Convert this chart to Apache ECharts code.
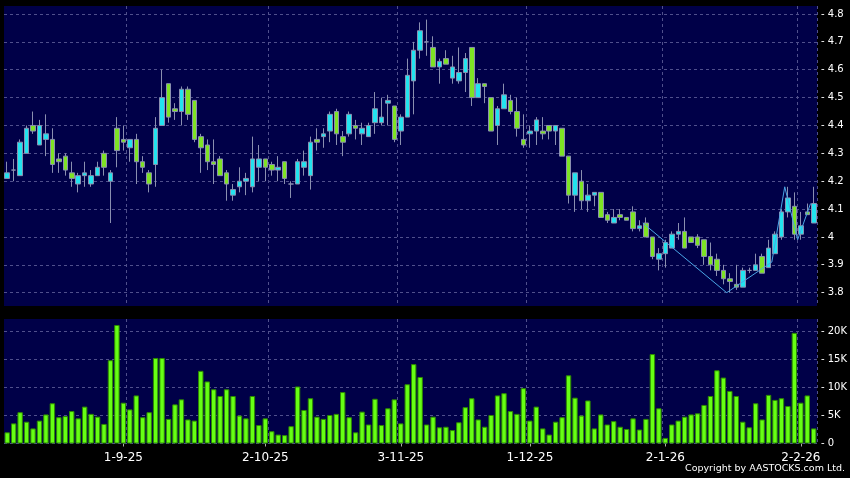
<!DOCTYPE html>
<html><head><meta charset="utf-8">
<script src="https://cdn.jsdelivr.net/npm/echarts@6/dist/echarts.min.js"></script>
<style>html,body{margin:0;padding:0;background:#000;}#c{width:850px;height:478px;}</style>
</head><body><div id="c"></div>
<script>
const categories = [
"6-8-25","7-8-25","8-8-25","11-8-25","12-8-25","13-8-25","14-8-25","15-8-25","18-8-25","19-8-25","20-8-25","21-8-25","22-8-25","25-8-25","26-8-25","27-8-25","28-8-25","29-8-25",
"1-9-25","2-9-25","3-9-25","4-9-25","5-9-25","8-9-25","9-9-25","10-9-25","11-9-25","12-9-25","15-9-25","16-9-25","17-9-25","18-9-25","19-9-25","22-9-25","23-9-25","24-9-25","25-9-25","26-9-25","29-9-25","30-9-25",
"2-10-25","3-10-25","6-10-25","7-10-25","8-10-25","9-10-25","10-10-25","13-10-25","14-10-25","15-10-25","16-10-25","17-10-25","20-10-25","21-10-25","22-10-25","23-10-25","24-10-25","27-10-25","28-10-25","30-10-25","31-10-25",
"3-11-25","4-11-25","5-11-25","6-11-25","7-11-25","10-11-25","11-11-25","12-11-25","13-11-25","14-11-25","17-11-25","18-11-25","19-11-25","20-11-25","21-11-25","24-11-25","25-11-25","26-11-25","27-11-25","28-11-25",
"1-12-25","2-12-25","3-12-25","4-12-25","5-12-25","8-12-25","9-12-25","10-12-25","11-12-25","12-12-25","15-12-25","16-12-25","17-12-25","18-12-25","19-12-25","22-12-25","23-12-25","24-12-25","29-12-25","30-12-25","31-12-25",
"2-1-26","5-1-26","6-1-26","7-1-26","8-1-26","9-1-26","12-1-26","13-1-26","14-1-26","15-1-26","16-1-26","19-1-26","20-1-26","21-1-26","22-1-26","23-1-26","26-1-26","27-1-26","28-1-26","29-1-26","30-1-26",
"2-2-26","3-2-26","4-2-26"];

const tickLabels = ["1-9-25","2-10-25","3-11-25","1-12-25","2-1-26","2-2-26"];
const gridLineDates = ["2-9-25","3-10-25","3-11-25","1-12-25","2-1-26","2-2-26"];

const openP = [4.21,4.24,4.22,4.30,4.40,4.33,4.35,4.35,4.28,4.29,
4.23,4.19,4.22,4.19,4.22,4.30,4.20,4.39,4.35,4.32,
4.35,4.27,4.23,4.26,4.40,4.55,4.46,4.45,4.53,4.49,
4.36,4.33,4.27,4.28,4.23,4.15,4.18,4.20,4.18,4.25,
4.28,4.26,4.24,4.27,4.19,4.19,4.25,4.22,4.35,4.36,
4.38,4.45,4.36,4.37,4.40,4.37,4.36,4.41,4.41,4.48,
4.47,4.38,4.43,4.56,4.67,4.70,4.68,4.61,4.64,4.57,
4.56,4.59,4.68,4.50,4.55,4.50,4.40,4.46,4.49,4.45,
4.35,4.37,4.38,4.38,4.40,4.38,4.39,4.29,4.15,4.20,
4.13,4.15,4.16,4.08,4.05,4.08,4.07,4.09,4.03,4.05,
4.00,3.92,3.94,3.96,4.01,4.02,4.00,4.00,3.99,3.93,
3.92,3.88,3.85,3.83,3.82,3.88,3.88,3.93,3.89,3.94,
4.00,4.09,4.11,4.01,4.09,4.05];
const closeP = [4.23,4.24,4.34,4.39,4.38,4.40,4.37,4.26,4.27,4.24,
4.21,4.22,4.23,4.22,4.25,4.25,4.23,4.31,4.34,4.35,
4.27,4.25,4.19,4.39,4.50,4.43,4.45,4.53,4.44,4.35,
4.32,4.27,4.26,4.22,4.19,4.17,4.20,4.21,4.28,4.28,
4.25,4.24,4.25,4.21,4.19,4.27,4.27,4.34,4.34,4.37,
4.44,4.37,4.34,4.44,4.39,4.39,4.40,4.46,4.43,4.49,
4.35,4.43,4.58,4.67,4.74,4.70,4.61,4.63,4.62,4.61,
4.59,4.64,4.50,4.55,4.54,4.38,4.46,4.51,4.45,4.39,
4.33,4.38,4.42,4.37,4.38,4.40,4.29,4.15,4.23,4.13,
4.15,4.16,4.07,4.06,4.07,4.07,4.06,4.03,4.04,4.00,
3.93,3.94,3.98,4.01,4.02,3.96,3.98,3.97,3.93,3.90,
3.88,3.85,3.84,3.82,3.88,3.88,3.90,3.87,3.96,4.01,
4.09,4.14,4.01,4.04,4.08,4.12];
const lowP = [4.21,4.20,4.22,4.30,4.37,4.33,4.29,4.23,4.23,4.22,
4.18,4.16,4.18,4.18,4.22,4.22,4.05,4.25,4.31,4.27,
4.19,4.23,4.16,4.18,4.40,4.41,4.42,4.40,4.42,4.34,
4.23,4.24,4.19,4.22,4.13,4.13,4.16,4.15,4.16,4.20,
4.20,4.22,4.20,4.19,4.14,4.19,4.22,4.17,4.31,4.32,
4.34,4.33,4.29,4.36,4.35,4.33,4.36,4.37,4.40,4.40,
4.34,4.33,4.43,4.44,4.64,4.65,4.61,4.55,4.62,4.55,
4.55,4.52,4.47,4.50,4.48,4.38,4.33,4.46,4.44,4.36,
4.32,4.32,4.33,4.35,4.35,4.33,4.29,4.12,4.09,4.10,
4.09,4.11,4.07,4.05,4.05,4.06,4.06,4.02,4.02,4.00,
3.92,3.88,3.89,3.96,3.99,3.96,3.98,3.96,3.90,3.88,
3.86,3.83,3.80,3.81,3.82,3.87,3.88,3.87,3.89,3.94,
3.99,4.07,3.99,3.99,4.08,4.05];
const highP = [4.27,4.28,4.35,4.40,4.45,4.42,4.44,4.39,4.30,4.30,
4.27,4.23,4.27,4.24,4.27,4.31,4.24,4.43,4.40,4.35,
4.37,4.29,4.24,4.43,4.60,4.55,4.48,4.54,4.54,4.49,
4.37,4.35,4.35,4.29,4.24,4.19,4.25,4.23,4.36,4.33,
4.28,4.27,4.29,4.27,4.20,4.28,4.31,4.36,4.39,4.39,
4.45,4.46,4.38,4.45,4.42,4.41,4.41,4.52,4.50,4.51,
4.47,4.44,4.64,4.70,4.77,4.78,4.72,4.64,4.67,4.65,
4.68,4.66,4.68,4.57,4.55,4.50,4.47,4.55,4.51,4.50,
4.44,4.40,4.43,4.43,4.40,4.40,4.39,4.29,4.23,4.24,
4.19,4.16,4.16,4.09,4.10,4.10,4.07,4.11,4.06,4.07,
4.00,3.96,3.99,4.02,4.05,4.07,4.00,4.01,3.99,3.98,
3.94,3.90,3.87,3.90,3.89,3.89,3.94,3.94,3.99,4.02,
4.10,4.18,4.16,4.09,4.12,4.18];

// volume in thousands
const volumeK = [2.0,3.6,5.6,3.9,2.7,4.1,5.2,7.2,4.7,4.9,
5.8,4.5,6.6,5.3,4.8,3.5,14.9,21.2,7.3,6.1,
8.6,4.7,5.6,15.3,15.3,4.4,7.0,7.9,4.3,4.1,
13.0,11.1,9.7,8.5,9.7,8.5,5.0,4.5,8.5,3.3,
4.5,2.2,1.6,1.5,3.1,10.2,6.0,8.1,4.8,4.4,
5.1,5.3,9.2,4.7,2.0,5.7,3.4,8.0,3.3,6.3,
7.9,3.6,10.6,14.2,11.9,3.4,4.8,2.9,3.0,2.4,
3.8,6.5,8.1,4.3,3.0,5.1,8.6,9.0,5.8,5.3,
9.9,4.1,6.6,2.7,1.6,3.9,4.7,12.2,8.2,5.0,
7.7,2.7,5.2,3.4,4.0,3.0,2.6,4.5,2.5,4.4,
16.0,6.3,1.0,3.4,4.1,4.8,5.2,5.4,6.9,8.5,
13.1,11.8,9.4,8.5,3.9,2.9,7.2,4.3,8.7,7.8,
8.1,6.7,19.8,7.3,8.6,2.7];

// zigzag overlay: index position (band start) and price
const zigzagIdx = [99,112,119,121,123,125];
const zigzagVal = [4.05,3.80,3.91,4.18,3.99,4.12];

const priceMin = 3.8, priceMax = 4.8, priceStep = 0.1;
const volMin = 0, volMax = 20, volStep = 5;

const font = 'DejaVu Sans';
const navy = '#000048';
const gridCol = '#50508c';
const L = 4, R = 33;

const labelSet = new Set(tickLabels.map(d => categories.indexOf(d)));
const gridSet = new Set(gridLineDates.map(d => categories.indexOf(d)));
const labelFn = (i) => labelSet.has(i);
const gridFn = (i) => gridSet.has(i);

const candles = categories.map((_, i) => [openP[i], closeP[i], lowP[i], highP[i]]);
const zigzag = zigzagIdx.map((x, k) => [x, zigzagVal[k]]);

const chart = echarts.init(document.getElementById('c'), null, {renderer: 'canvas'});
const dashed = {color: gridCol, type: [3, 3], width: 1};

chart.setOption({
  backgroundColor: '#000000',
  animation: false,
  title: {
    text: 'Copyright by AASTOCKS.com Ltd.',
    right: 5, top: 464, padding: 0,
    textStyle: {color: '#ffffff', fontSize: 9.5, fontWeight: 'normal', fontFamily: font}
  },
  grid: [
    {left: L, right: R, top: 6, height: 300, show: true, backgroundColor: navy, borderWidth: 0},
    {left: L, right: R, top: 14, height: 278.7, show: false},
    {left: L, right: R, top: 319, height: 124.5, show: true, backgroundColor: navy, borderWidth: 0},
    {left: L, right: R, top: 331.7, height: 111.8, show: false}
  ],
  xAxis: [
    {gridIndex: 0, type: 'category', data: categories, boundaryGap: true,
     axisLine: {show: false}, axisTick: {show: false}, axisLabel: {show: false},
     splitLine: {show: true, interval: gridFn, lineStyle: dashed}},
    {gridIndex: 1, type: 'category', data: categories, boundaryGap: true, show: false},
    {gridIndex: 2, type: 'category', data: categories, boundaryGap: true, position: 'bottom', offset: 3,
     axisLine: {show: false},
     axisTick: {show: true, alignWithLabel: true, length: 3, interval: labelFn, lineStyle: {color: '#aaaaaa'}},
     axisLabel: {show: true, interval: labelFn, color: '#ffffff', fontSize: 12, fontFamily: font, margin: 5},
     splitLine: {show: true, interval: gridFn, lineStyle: dashed}},
    {gridIndex: 3, type: 'category', data: categories, boundaryGap: true, show: false},
    {gridIndex: 1, type: 'value', min: 0, max: categories.length, show: false}
  ],
  yAxis: [
    {gridIndex: 0, type: 'value', min: 0, max: 1, show: false},
    {gridIndex: 1, type: 'value', position: 'right', min: priceMin, max: priceMax, interval: priceStep,
     axisLine: {show: false}, axisTick: {show: false},
     axisLabel: {color: '#ffffff', fontSize: 10, fontFamily: font, margin: 4,
       formatter: v => '- ' + String(Math.round(v * 10) / 10)},
     splitLine: {show: true, lineStyle: dashed}},
    {gridIndex: 2, type: 'value', min: 0, max: 1, show: false},
    {gridIndex: 3, type: 'value', position: 'right', min: volMin, max: volMax, interval: volStep,
     axisLine: {show: false}, axisTick: {show: false},
     axisLabel: {color: '#ffffff', fontSize: 10, fontFamily: font, margin: 4,
       formatter: v => '- ' + (v === 0 ? '0' : v + 'K')},
     splitLine: {show: true, lineStyle: dashed}}
  ],
  series: [
    {type: 'candlestick', xAxisIndex: 1, yAxisIndex: 1, data: candles, barWidth: 5,
     itemStyle: {color: '#22e3ef', color0: '#7ee324', borderColor: '#8a8fb0', borderColor0: '#8a8fb0',
       borderColorDoji: '#8a8fb0', borderWidth: 1}, z: 3},
    {type: 'line', xAxisIndex: 4, yAxisIndex: 1, data: zigzag, symbol: 'none',
     lineStyle: {color: '#4aa6e6', width: 1}, z: 5},
    {type: 'bar', xAxisIndex: 3, yAxisIndex: 3, data: volumeK, barWidth: 5.4, clip: false,
     itemStyle: {color: '#66ff14', borderColor: '#2e8a00', borderWidth: 1}}
  ]
});
</script>
</body></html>
